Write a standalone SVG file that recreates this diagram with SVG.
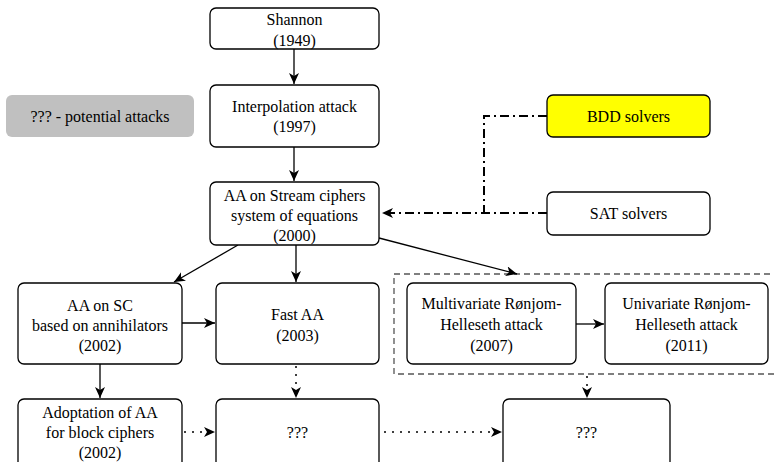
<svg xmlns="http://www.w3.org/2000/svg" width="774" height="462" viewBox="0 0 774 462">
<defs>
<marker id="ah" markerUnits="userSpaceOnUse" markerWidth="12" markerHeight="10" viewBox="0 0 12 10" refX="11" refY="5" orient="auto">
<path d="M0,0 L11,5 L0,10 L3,5 Z" fill="#000"/>
</marker>
</defs>
<style>
.n rect{fill:#fff;stroke:#000;stroke-width:1.3}
text{text-anchor:middle;font-family:Liberation Serif,Times New Roman,serif !important;font-size:16px}
.c path{fill:none;stroke:#000;stroke-width:1.3}
.c .dot{stroke-dasharray:2 6;stroke-width:1.5}
.c .dd{stroke-dasharray:9 4 2 4;stroke-width:2}
</style>
<rect x="6" y="95" width="188" height="42" rx="6" fill="#c0c0c0"/>
<text x="100" y="121.5" font-family="Liberation Serif">??? - potential attacks</text>
<rect x="394" y="274" width="385" height="100" fill="none" stroke="#555" stroke-width="1.3" stroke-dasharray="6 4"/>
<g class="c">
<path d="M294,49 V84" marker-end="url(#ah)"/>
<path d="M294,147 V181" marker-end="url(#ah)"/>
<path d="M238,245 L174,282" marker-end="url(#ah)"/>
<path d="M296,245 V282" marker-end="url(#ah)"/>
<path d="M379,238 L517,274" marker-end="url(#ah)"/>
<path d="M182,323 H215" marker-end="url(#ah)"/>
<path d="M576,324 H604" marker-end="url(#ah)"/>
<path d="M100,364 V398" marker-end="url(#ah)"/>
<path class="dot" d="M296,366 V398" marker-end="url(#ah)"/>
<path class="dot" d="M184,432 H215" marker-end="url(#ah)"/>
<path class="dot" d="M384,432 H502" marker-end="url(#ah)"/>
<path class="dot" d="M587,376 V398" marker-end="url(#ah)"/>
<path class="dd" d="M547,116 H484 V213"/>
<path class="dd" d="M547,213 H382" marker-end="url(#ah)"/>
</g>
<g id="shannon" class="n"><rect x="210" y="8" width="169" height="41" rx="6"/><text x="294.5" y="25">Shannon</text><text x="294.5" y="46">(1949)</text></g>
<g id="interp" class="n"><rect x="210" y="85" width="169" height="62" rx="6"/><text x="294.5" y="111.5">Interpolation attack</text><text x="294.5" y="131.5">(1997)</text></g>
<g id="aastream" class="n"><rect x="210" y="182" width="169" height="63" rx="6"/><text x="294.5" y="200.5">AA on Stream ciphers</text><text x="294.5" y="220.5">system of equations</text><text x="294.5" y="240.5">(2000)</text></g>
<g id="bdd" class="n"><rect x="547" y="95" width="163" height="42" rx="6" style="fill:#ffff00"/><text x="628.5" y="121.5">BDD solvers</text></g>
<g id="sat" class="n"><rect x="547" y="192" width="163" height="43" rx="6"/><text x="628.5" y="219">SAT solvers</text></g>
<g id="aasc" class="n"><rect x="18" y="283" width="164" height="81" rx="6"/><text x="100" y="310.5">AA on SC</text><text x="100" y="330.5">based on annihilators</text><text x="100" y="350.5">(2002)</text></g>
<g id="fastaa" class="n"><rect x="216" y="283" width="163" height="81" rx="6"/><text x="297.5" y="319.5">Fast AA</text><text x="297.5" y="340.5">(2003)</text></g>
<g id="multi" class="n"><rect x="407" y="283" width="169" height="81" rx="6"/><text x="491.5" y="308.5">Multivariate Rønjom-</text><text x="491.5" y="329.5">Helleseth attack</text><text x="491.5" y="350.5">(2007)</text></g>
<g id="uni" class="n"><rect x="605" y="283" width="163" height="81" rx="6"/><text x="686.5" y="308.5">Univariate Rønjom-</text><text x="686.5" y="329.5">Helleseth attack</text><text x="686.5" y="350.5">(2011)</text></g>
<g id="adopt" class="n"><rect x="18" y="399" width="164" height="70" rx="6"/><text x="100" y="417.5">Adoptation of AA</text><text x="100" y="437.5">for block ciphers</text><text x="100" y="457.5">(2002)</text></g>
<g id="q1" class="n"><rect x="216" y="399" width="163" height="70" rx="6"/><text x="297.5" y="437.5">???</text></g>
<g id="q2" class="n"><rect x="503" y="399" width="167" height="70" rx="6"/><text x="586.5" y="437.5">???</text></g>
</svg>
